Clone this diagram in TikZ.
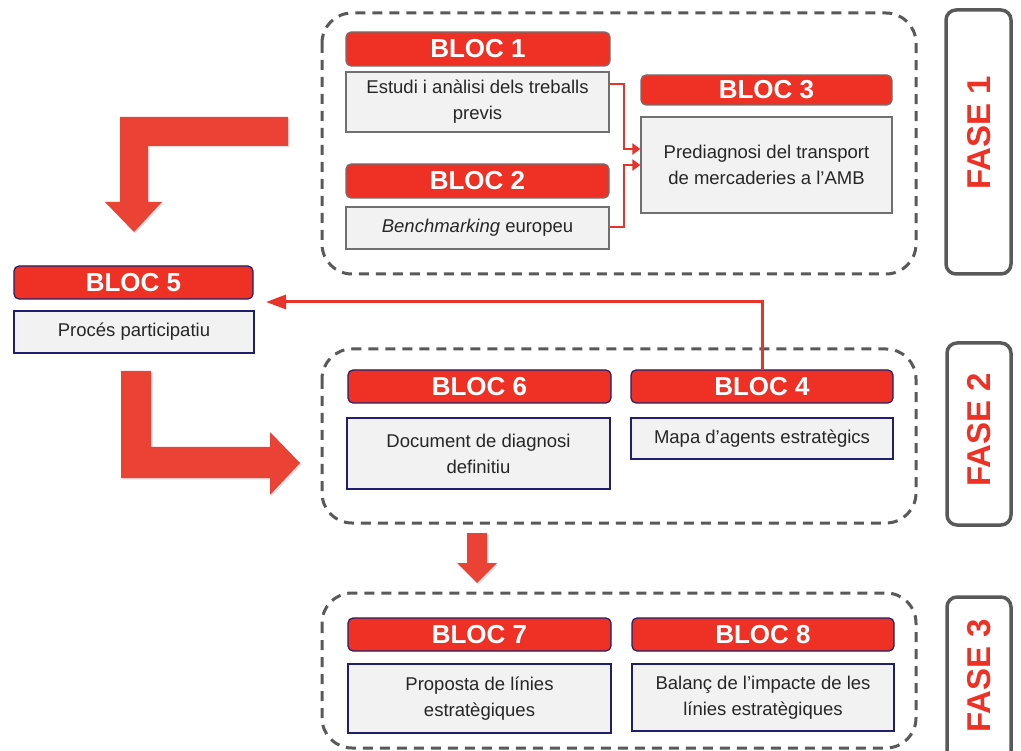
\documentclass[tikz,border=0pt]{standalone}
\usepackage{fontspec}
\setmainfont{Liberation Sans}
\usetikzlibrary{arrows.meta,shadows}
\definecolor{hdrred}{HTML}{EE3124}
\definecolor{arrred}{HTML}{EA4335}
\definecolor{linered}{HTML}{E8332A}
\definecolor{navy}{HTML}{1F1F6B}
\definecolor{gborder}{HTML}{707070}
\definecolor{bodyfill}{HTML}{F2F2F2}
\definecolor{dashgray}{HTML}{595959}
\definecolor{txt}{HTML}{262626}
\begin{document}
\begin{tikzpicture}[x=1pt,y=-1pt,
  hdr/.style={draw=navy, line width=1.2pt, fill=hdrred, rounded corners=5pt, text=white,
    font=\bfseries\fontsize{26}{26}\selectfont, inner sep=0pt},
  body/.style={draw=navy, line width=1.2pt, fill=bodyfill, text=txt,
    font=\fontsize{18.5}{26}\selectfont, align=center, inner sep=0pt},
  grayb/.style={draw=gborder},
  phase/.style={draw=dashgray, line width=3pt, dash pattern=on 10pt off 7pt, rounded corners=30pt},
  fasebox/.style={draw=dashgray, line width=3.5pt, rounded corners=10pt},
  fasetxt/.style={text=hdrred, font=\bfseries\fontsize{33}{33}\selectfont, rotate=90, inner sep=0pt},
  conn/.style={draw=linered, line width=2.5pt, -{Triangle[length=8pt,width=11pt]}},
  connbig/.style={draw=linered, line width=3pt, -{Triangle[length=20pt,width=14pt]}},
  bigarrow/.style={fill=arrred, drop shadow={opacity=0.25, shadow xshift=1.5pt, shadow yshift=-1.5pt}}
]
\useasboundingbox (0,0) rectangle (1021,751);

% phase dashed frames
\draw[phase] (322,13) rectangle (916,274);
\draw[phase] (322,349) rectangle (916,523);
\draw[phase] (322,593) rectangle (916,748);

% FASE boxes
\draw[fasebox] (946,10) rectangle (1011,274);
\draw[fasebox] (947,343) rectangle (1011,525);
\draw[fasebox] (947,597) rectangle (1011,770);
\node[fasetxt] (f1) at (979,133) {FASE 1};
\node[fasetxt] (f2) at (979,430) {FASE 2};
\node[fasetxt] (f3) at (979,676) {FASE 3};

% big block arrows
\path[bigarrow] (288,117) -- (288,146) -- (148,146) -- (148,202) -- (162,202) -- (134,232)
  -- (105,202) -- (120,202) -- (120,117) -- cycle;
\path[bigarrow] (121,371) -- (151,371) -- (151,447) -- (270,447) -- (270,432) -- (300,463)
  -- (270,495) -- (270,478) -- (121,478) -- cycle;
\path[bigarrow] (467,533) -- (487,533) -- (487,563) -- (497,563) -- (477,583) -- (457,563)
  -- (467,563) -- cycle;

% Phase 1 blocks
\node[hdr, grayb, minimum width=264pt, minimum height=34pt] (b1h) at (478,49) {BLOC 1};
\node[body, grayb, minimum width=263pt, minimum height=60pt] (b1b) at (477.5,102)
  {Estudi i anàlisi dels treballs\\previs};
\node[hdr, grayb, minimum width=263pt, minimum height=34pt] (b2h) at (477.5,181) {BLOC 2};
\node[body, grayb, minimum width=263pt, minimum height=42pt] (b2b) at (477.5,228)
  {\textit{Benchmarking} europeu};
\node[hdr, grayb, minimum width=251pt, minimum height=30pt] (b3h) at (766.5,90) {BLOC 3};
\node[body, grayb, minimum width=251pt, minimum height=96pt] (b3b) at (766.5,165)
  {Prediagnosi del transport\\de mercaderies a l'AMB};

% BLOC 5
\node[hdr, minimum width=239pt, minimum height=33pt] (b5h) at (133.5,282.5) {BLOC 5};
\node[body, minimum width=240pt, minimum height=42pt] (b5b) at (134,332) {Procés participatiu};

% Phase 2 blocks
\node[hdr, minimum width=263pt, minimum height=33pt] (b6h) at (479.5,386.5) {BLOC 6};
\node[body, minimum width=263pt, minimum height=71pt] (b6b) at (478.5,453.5)
  {Document de diagnosi\\definitiu};
\node[hdr, minimum width=262pt, minimum height=33pt] (b4h) at (762,386.5) {BLOC 4};
\node[body, minimum width=262pt, minimum height=41pt] (b4b) at (762,438.5)
  {Mapa d'agents estratègics};

% Phase 3 blocks
\node[hdr, minimum width=263pt, minimum height=33pt] (b7h) at (479.5,634.5) {BLOC 7};
\node[body, minimum width=263pt, minimum height=69pt] (b7b) at (479.5,698.5)
  {Proposta de línies\\estratègiques};
\node[hdr, minimum width=262pt, minimum height=33pt] (b8h) at (763,634.5) {BLOC 8};
\node[body, minimum width=262pt, minimum height=67pt] (b8b) at (763,697.5)
  {Balanç de l'impacte de les\\línies estratègiques};

% connectors
\coordinate (y84) at (0,84);
\coordinate (y149) at (0,149);
\coordinate (y227) at (0,227);
\coordinate (y165) at (0,165);
\draw[conn] (b1b.east |- y84) -- (624,84) -- (624,149) -- (b3b.west |- y149);
\draw[conn] (b2b.east |- y227) -- (624,227) -- (624,165) -- (b3b.west |- y165);
\coordinate (tip5) at (266,302);
\draw[connbig] (b4h.north) -- (762,302) -- (tip5);
\end{tikzpicture}
\end{document}
